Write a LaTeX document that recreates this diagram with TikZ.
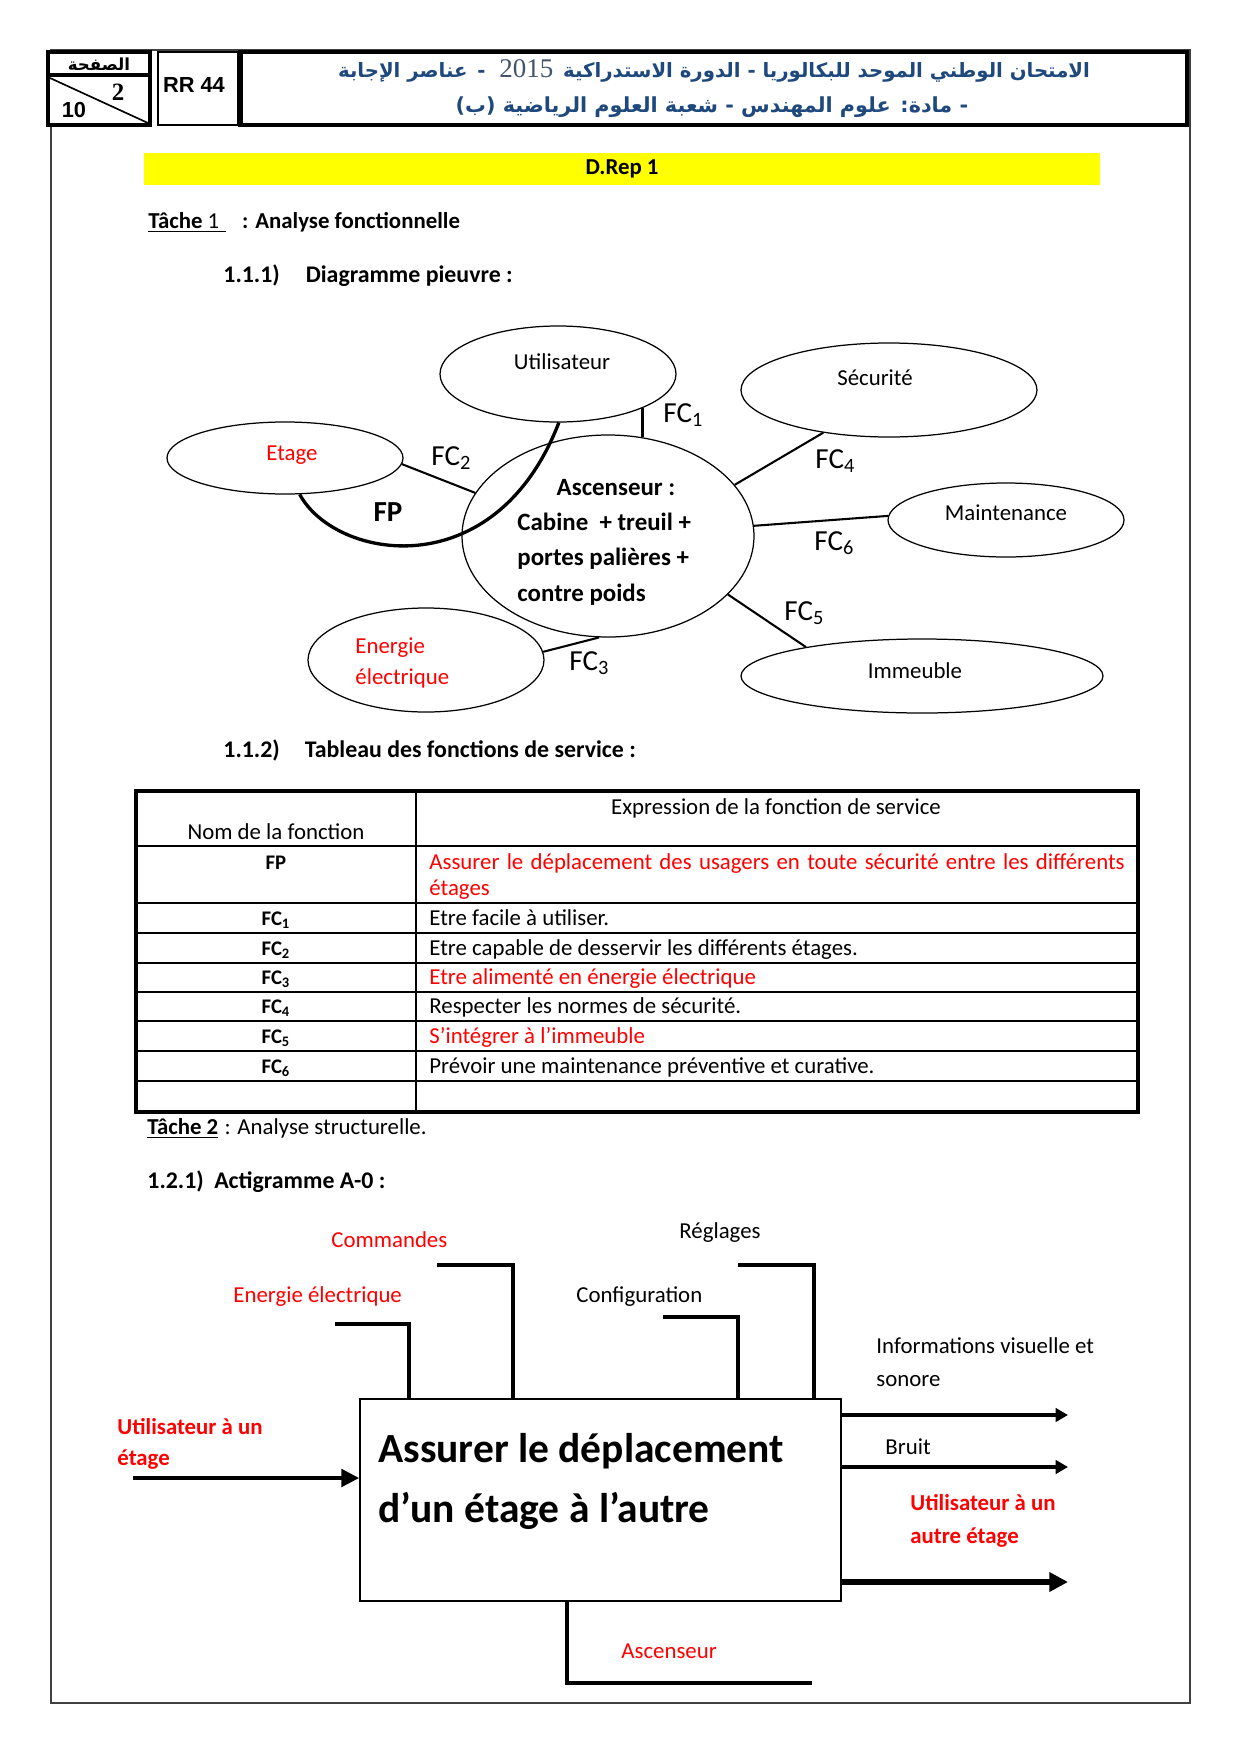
\documentclass[tikz,border=0pt]{standalone}
\usepackage{fontspec}
\setmainfont{Carlito}
\newfontfamily\arabicfont[Script=Arabic]{DejaVu Sans}
\newfontfamily\arialfont{Liberation Sans}
\newfontfamily\timesfont{Liberation Serif}
\TeXXeTstate=1
\usetikzlibrary{positioning,shapes.geometric,arrows.meta}
\definecolor{hdrblue}{HTML}{1F497D}
\definecolor{hdrgray}{HTML}{44546A}
\definecolor{answred}{HTML}{FF0000}
\definecolor{bandyellow}{HTML}{FFFF00}
\def\pxu{0.016935cm}
\tikzset{
  txt/.style={inner sep=0pt,text height=.8em,text depth=.1em},
  sectitle/.style={txt,anchor=west,font=\bfseries\fontsize{11.5}{14}\selectfont},
  hdrbox/.style={line width=1.5pt},
  bubble/.style={draw,ellipse,line width=0.6pt,inner sep=0pt},
  fcline/.style={line width=1pt},
  fclbl/.style={txt,anchor=west,font=\fontsize{14}{16}\selectfont},
  tabline/.style={line width=1pt},
  flow/.style={line width=1.5pt},
  outarrow/.style={line width=1.6pt,-{Triangle[length=6pt,width=6.5pt]}},
  bigarrow/.style={line width=3.2pt,-{Triangle[length=9pt,width=9pt]}},
  inarrow/.style={line width=1.5pt,-{Triangle[length=8.5pt,width=8.5pt]}}
}
\begin{document}
\begin{tikzpicture}[x=0.016935cm,y=-0.016935cm,font=\fontsize{11}{13}\selectfont]
  \useasboundingbox (0,0) rectangle (1240,1754);
  % page frame
  \draw[line width=0.9pt,black!75] (51,50) rectangle (1190,1703);

  % header
  \draw[hdrbox,fill=white] (48,52) rectangle (150,125);
  \draw[hdrbox] (48,75) -- (150,75);
  \draw[line width=0.8pt] (50,78) -- (148,123);
  \node[font=\arabicfont\bfseries\fontsize{8}{9}\selectfont] (hdr-page) at (99,64) {\beginR الصفحة\endR};
  \node[font=\timesfont\bfseries\fontsize{12}{14}\selectfont] (hdr-num) at (118,92) {2};
  \node[font=\arialfont\bfseries\fontsize{10.5}{12}\selectfont] (hdr-tot) at (74,110) {10};
  \draw[line width=1pt,fill=white] (158,52) rectangle (238,125);
  \node[font=\arialfont\bfseries\fontsize{10.5}{12}\selectfont] (hdr-ref) at (194,85) {RR 44};
  \draw[hdrbox,fill=white] (240,52) rectangle (1187,125);
  \draw[line width=2.5pt] (240,52) -- (240,125);
  \node[font=\arabicfont\bfseries\fontsize{9.5}{12}\selectfont,text=hdrblue] (hdr-l1) at (714,71)
    {\beginR الامتحان الوطني الموحد للبكالوريا - الدورة الاستدراكية\enspace\beginL{\timesfont\mdseries\fontsize{13}{14}\selectfont\color{hdrgray}2015}\endL{}\ \ -\enspace عناصر الإجابة\endR};
  \node[font=\arabicfont\bfseries\fontsize{10}{12}\selectfont,text=hdrblue] (hdr-l2) at (712,107)
    {\beginR - مادة: علوم المهندس - شعبة العلوم الرياضية (ب)\endR};

  % D.Rep band and titles
  \node[fill=bandyellow,minimum width=956*\pxu,minimum height=32*\pxu,inner sep=0pt,
        font=\bfseries\fontsize{11}{13}\selectfont] (band) at (622,169) {D.Rep 1};
  \node[txt,anchor=west] (task1) at (148,221)
    {\underline{\textbf{Tâche} 1\kern3pt}\hspace{8pt}\textbf{: Analyse fonctionnelle}};
  \node[sectitle] (sec111) at (223,275) {1.1.1)\hspace{12.5pt}Diagramme pieuvre :};

  % diagramme pieuvre
  \node[bubble,minimum width=236*\pxu,minimum height=96*\pxu] (util) at (558,374) {};
  \node[bubble,minimum width=236*\pxu,minimum height=72*\pxu] (etage) at (285,458) {};
  \node[bubble,minimum width=292*\pxu,minimum height=202*\pxu] (asc) at (608,536) {};
  \node[bubble,minimum width=296*\pxu,minimum height=94*\pxu] (secu) at (889,390) {};
  \node[bubble,minimum width=236*\pxu,minimum height=74*\pxu] (maint) at (1006,520) {};
  \node[bubble,minimum width=362*\pxu,minimum height=74*\pxu] (imm) at (922,676) {};
  \node[bubble,minimum width=236*\pxu,minimum height=104*\pxu] (ener) at (426,660) {};

  \node[txt] (util-t) at (562,362) {Utilisateur};
  \node[txt,text=answred] (etage-t) at (292,453) {Etage};
  \node[txt] (secu-t) at (875,378) {Sécurité};
  \node[txt] (maint-t) at (1006,513) {Maintenance};
  \node[txt] (imm-t) at (915,671) {Immeuble};
  \node[anchor=west,inner sep=0pt,align=left,text=answred,font=\fontsize{11}{15.4}\selectfont]
    (ener-t) at (355,663) {Energie\\électrique};
  \node[txt,font=\bfseries\fontsize{12}{14}\selectfont] (asc-t) at (616,488) {Ascenseur :};
  \node[anchor=west,inner sep=0pt,align=left,font=\bfseries\fontsize{12}{17.1}\selectfont]
    (asc-d) at (517,559) {Cabine \ + treuil +\\portes palières +\\contre poids};

  \draw[fcline] (util.-22) -- (util.-22 |- asc.71);
  \draw[fcline] (etage.-3) -- (asc.162);
  \draw[fcline] (ener.4) -- (asc.-95);
  \draw[fcline] (asc.22) -- (secu.-147);
  \draw[fcline] (asc.4) -- (maint.178);
  \draw[fcline] (asc.-26) -- (imm.166);
  \draw[line width=1.6pt] (etage.-68) .. controls (335,560) and (495,588) .. (util.-89);

  \node[fclbl] (fc1) at (663,415) {FC\textsubscript{1}};
  \node[fclbl] (fc2) at (431,458) {FC\textsubscript{2}};
  \node[fclbl] (fc3) at (569,663) {FC\textsubscript{3}};
  \node[fclbl] (fc4) at (815,461) {FC\textsubscript{4}};
  \node[fclbl] (fc6) at (814,543) {FC\textsubscript{6}};
  \node[fclbl] (fc5) at (784,613) {FC\textsubscript{5}};
  \node[txt,font=\bfseries\fontsize{14}{16}\selectfont] (fp) at (388,514) {FP};

  % tableau des fonctions de service
  \node[sectitle] (sec112) at (223,750) {1.1.2)\hspace{12pt}Tableau des fonctions de service :};
  \draw[line width=1.5pt] (136,791) rectangle (1138,1112);
  \draw[tabline] (416,791) -- (416,1112);
  \foreach \y in {846,903,933,963,992,1021,1051,1081}
    \draw[tabline] (136,\y) -- (1138,\y);
  \node[txt] (th-name) at (276,832) {Nom de la fonction};
  \node[txt] (th-expr) at (776,807) {Expression de la fonction de service};
  \node[txt,font=\bfseries] (fp-name) at (276,862) {FP};
  \node[txt,anchor=west,text=answred] (fp-expr) at (429,862)
    {\makebox[335pt][s]{Assurer le déplacement des usagers en toute sécurité entre les différents}};
  \node[txt,anchor=west,text=answred] (fp-expr2) at (429,888) {étages};
  \foreach \y/\n/\txt/\col in {
    918/1/{Etre facile à utiliser.}/black,
    948/2/{Etre capable de desservir les différents étages.}/black,
    977/3/{Etre alimenté en énergie électrique}/answred,
    1006/4/{Respecter les normes de sécurité.}/black,
    1036/5/{S’intégrer à l’immeuble}/answred,
    1066/6/{Prévoir une maintenance préventive et curative.}/black} {
    \node[txt,font=\bfseries] (fc-name-\n) at (276,\y) {FC\textsubscript{\n}};
    \node[txt,anchor=west,text=\col] (fc-expr-\n) at (429,\y) {\txt};
  }

  % actigramme A-0
  \node[txt,anchor=west] (task2) at (147,1127)
    {\underline{\textbf{Tâche 2}}\hspace{3pt}: Analyse structurelle.};
  \node[sectitle] (sec121) at (147,1181) {1.2.1)\hspace{5pt}Actigramme A-0 :};

  \node[draw,line width=0.9pt,minimum width=481*\pxu,minimum height=202*\pxu,inner sep=0pt]
    (act) at (600.5,1500) {};
  \node[anchor=west,inner sep=0pt,align=left,font=\bfseries\fontsize{20}{28.9}\selectfont]
    (act-t) at (378,1481) {Assurer le déplacement\\d’un étage à l’autre};

  \coordinate (ener-in) at (335,1324);
  \coordinate (cmd-in) at (437,1265);
  \coordinate (conf-in) at (663,1317);
  \coordinate (regl-in) at (738,1265);
  \draw[flow] (ener-in) -| (act.north -| 409,0);
  \draw[flow] (cmd-in) -| (act.north -| 513,0);
  \draw[flow] (conf-in) -| (act.north -| 738,0);
  \draw[flow] (regl-in) -| (act.north -| 814,0);
  \node[txt,anchor=west,text=answred] (ener-l) at (233,1295) {Energie électrique};
  \node[txt,anchor=west,text=answred] (cmd-l) at (331,1240) {Commandes};
  \node[txt,anchor=west] (conf-l) at (576,1295) {Configuration};
  \node[txt,anchor=west] (regl-l) at (679,1231) {Réglages};

  \coordinate (user-in) at (133,1478);
  \draw[inarrow] (user-in) -- (act.west |- user-in);
  \node[anchor=west,inner sep=0pt,align=left,text=answred,font=\bfseries\fontsize{11}{15}\selectfont]
    (user-l) at (117,1444) {Utilisateur à un\\étage};

  \coordinate (info-out) at (1068,1415);
  \coordinate (bruit-out) at (1068,1467);
  \coordinate (user-out) at (1068,1582);
  \draw[outarrow] (act.east |- info-out) -- (info-out);
  \draw[outarrow] (act.east |- bruit-out) -- (bruit-out);
  \draw[bigarrow] (act.east |- user-out) -- (user-out);
  \node[anchor=west,inner sep=0pt,align=left,font=\fontsize{11}{15.9}\selectfont]
    (info-l) at (876,1362) {Informations visuelle et\\sonore};
  \node[txt,anchor=west] (bruit-l) at (885,1447) {Bruit};
  \node[anchor=west,inner sep=0pt,align=left,text=answred,font=\bfseries\fontsize{11}{15.9}\selectfont]
    (user-ol) at (910,1521) {Utilisateur à un\\autre étage};

  \coordinate (mech-end) at (812,1683);
  \draw[flow] (act.south -| 567,0) |- (mech-end);
  \node[txt,anchor=west,text=answred] (mech-l) at (621,1651) {Ascenseur};
\end{tikzpicture}
\end{document}
